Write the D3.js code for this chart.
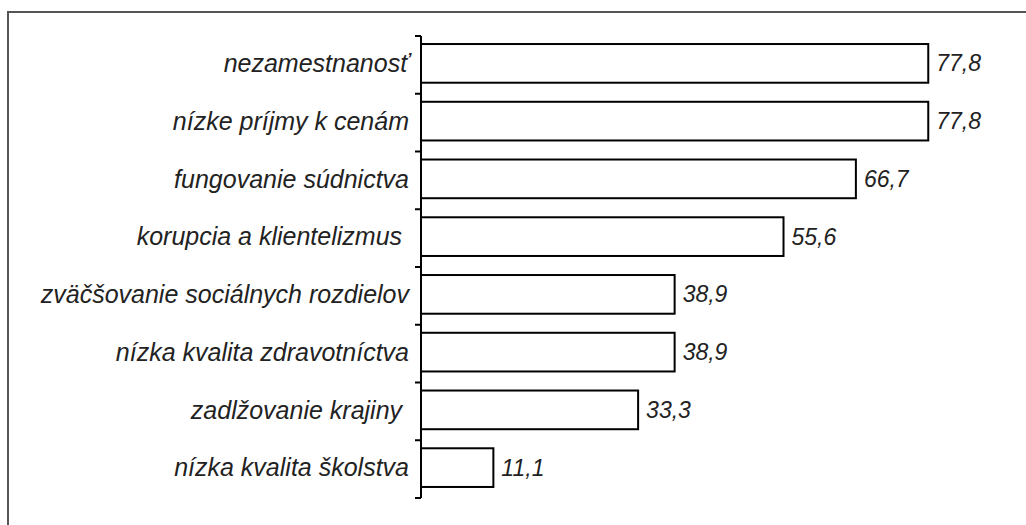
<!DOCTYPE html>
<html>
<head>
<meta charset="utf-8">
<script src="https://cdn.jsdelivr.net/npm/d3@7"></script>
<style>
  body { margin: 0; background: #fff; }
  svg { display: block; }
  text { font-family: "Liberation Sans", Arial, sans-serif; font-style: italic; fill: #222; white-space: pre; }
</style>
</head>
<body>
<div id="chart"></div>
<script>
var categories = [
  "nezamestnanosť",
  "nízke príjmy k cenám",
  "fungovanie súdnictva",
  "korupcia a klientelizmus ",
  "zväčšovanie sociálnych rozdielov",
  "nízka kvalita zdravotníctva",
  "zadlžovanie krajiny ",
  "nízka kvalita školstva"
];
var values = [77.8, 77.8, 66.7, 55.6, 38.9, 38.9, 33.3, 11.1];
var valueLabels = ["77,8", "77,8", "66,7", "55,6", "38,9", "38,9", "33,3", "11,1"];

var width = 1026, height = 525;
var svg = d3.select("#chart").append("svg")
    .attr("width", width)
    .attr("height", height);

// outer frame (only top and left edges visible)
svg.append("path")
    .attr("d", "M8,525 L8,12 L1026,12")
    .attr("fill", "none")
    .attr("stroke", "#555")
    .attr("stroke-width", 2);

var x = d3.scaleLinear().domain([0, 80]).range([421, 942.6]);
var y = d3.scaleBand().domain(categories).range([36, 498]).paddingInner(0.33).paddingOuter(0.165);
var step = y.step();

// bars
svg.selectAll("rect.bar")
    .data(values)
    .enter().append("rect")
    .attr("class", "bar")
    .attr("x", x(0))
    .attr("y", function(d, i) { return y(categories[i]) - 1.5; })
    .attr("width", function(d) { return x(d) - x(0); })
    .attr("height", y.bandwidth())
    .attr("fill", "#fff")
    .attr("stroke", "#000")
    .attr("stroke-width", 2);

// value labels
svg.selectAll("text.val")
    .data(values)
    .enter().append("text")
    .attr("class", "val")
    .attr("x", function(d) { return x(d) + 8; })
    .attr("y", function(d, i) { return y(categories[i]) + y.bandwidth() / 2 - 1.5; })
    .attr("dy", "0.35em")
    .attr("font-size", 23)
    .text(function(d, i) { return valueLabels[i]; });

// category axis
var yAxis = svg.append("g").attr("class", "axis");
yAxis.append("line")
    .attr("x1", x(0)).attr("x2", x(0))
    .attr("y1", 36).attr("y2", 498)
    .attr("stroke", "#000").attr("stroke-width", 2);
yAxis.selectAll("line.tick")
    .data(d3.range(categories.length + 1))
    .enter().append("line")
    .attr("class", "tick")
    .attr("x1", x(0) - 6).attr("x2", x(0))
    .attr("y1", function(i) { return 36 + i * step; })
    .attr("y2", function(i) { return 36 + i * step; })
    .attr("stroke", "#000").attr("stroke-width", 2);
yAxis.selectAll("text.cat")
    .data(categories)
    .enter().append("text")
    .attr("class", "cat")
    .attr("x", x(0) - 12)
    .attr("y", function(d) { return y(d) + y.bandwidth() / 2 - 1.5; })
    .attr("dy", "0.35em")
    .attr("text-anchor", "end")
    .attr("font-size", 25)
    .text(function(d) { return d; });
</script>
</body>
</html>
